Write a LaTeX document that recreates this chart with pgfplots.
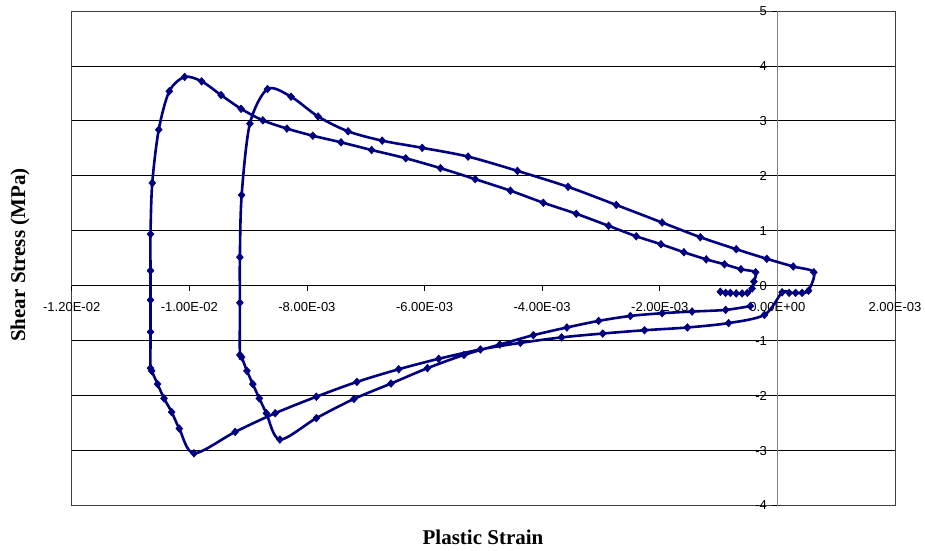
\documentclass[border=0pt]{standalone}
\usepackage{pgfplots}
\usepackage{pgfplotstable}
\pgfplotsset{compat=1.18}
\usepackage{fontspec}
\setmainfont{Liberation Sans}
\newfontfamily\timesfont{Liberation Serif}
\definecolor{navy}{RGB}{0,0,128}

\pgfplotstableread{
x y
-0.00097 -0.11
-0.00088 -0.13
-0.00080 -0.13
-0.00070 -0.14
-0.00060 -0.14
-0.00051 -0.13
-0.00043 -0.05
-0.00040 0.075
-0.00037 0.245
-0.00062 0.30
-0.00090 0.39
-0.00121 0.48
-0.00159 0.61
-0.00198 0.755
-0.00240 0.90
-0.00287 1.09
-0.00342 1.31
-0.00398 1.51
-0.00454 1.73
-0.00514 1.94
-0.00573 2.14
-0.00632 2.32
-0.00690 2.47
-0.00742 2.61
-0.00790 2.73
-0.00834 2.86
-0.00875 3.01
-0.00912 3.22
-0.00946 3.47
-0.00979 3.72
-0.01008 3.80
-0.01034 3.54
-0.01052 2.84
-0.01063 1.87
-0.01066 0.94
-0.01066 0.275
-0.01066 -0.26
-0.01066 -0.84
-0.01066 -1.50
-0.01064 -1.55
-0.01054 -1.79
-0.01043 -2.05
-0.01030 -2.30
-0.01017 -2.60
-0.00992 -3.05
-0.00922 -2.66
-0.00854 -2.32
-0.00784 -2.02
-0.00715 -1.75
-0.00644 -1.52
-0.00576 -1.33
-0.00505 -1.16
-0.00437 -1.04
-0.00367 -0.94
-0.00297 -0.87
-0.00226 -0.81
-0.00153 -0.76
-0.00083 -0.68
-0.00022 -0.53
0.00008 -0.12
0.00020 -0.13
0.00031 -0.13
0.00042 -0.13
0.00053 -0.09
0.00062 0.245
0.00027 0.35
-0.00018 0.49
-0.00070 0.665
-0.00131 0.883
-0.00196 1.15
-0.00274 1.47
-0.00356 1.80
-0.00442 2.09
-0.00526 2.35
-0.00604 2.51
-0.00672 2.64
-0.00730 2.81
-0.00781 3.08
-0.00827 3.44
-0.00867 3.58
-0.00897 2.95
-0.00911 1.65
-0.00914 0.52
-0.00914 -0.31
-0.00914 -1.26
-0.00911 -1.30
-0.00902 -1.55
-0.00892 -1.79
-0.00881 -2.05
-0.00869 -2.32
-0.00846 -2.80
-0.00784 -2.41
-0.00720 -2.06
-0.00657 -1.78
-0.00595 -1.50
-0.00533 -1.26
-0.00472 -1.07
-0.00415 -0.90
-0.00358 -0.76
-0.00304 -0.64
-0.00250 -0.55
-0.00196 -0.50
-0.00145 -0.47
-0.00088 -0.44
-0.00046 -0.37
}\loopdata

\begin{document}
\begin{tikzpicture}
\useasboundingbox (-71.7pt,-44.5pt) rectangle (853.3pt,505.5pt);
% frame and grid
\begin{axis}[
  scale only axis, width=823.3pt, height=494.5pt,
  xmin=-0.012, xmax=0.002, ymin=-4, ymax=5,
  axis line style={draw=black!75, line width=0.9pt},
  xtick=\empty, ytick={-4,-3,-2,-1,0,1,2,3,4,5}, yticklabels={},
  major tick length=0pt,
  ymajorgrids, grid style={black, line width=0.8pt},
]
\end{axis}
% middle axes with data
\begin{axis}[
  scale only axis, width=823.3pt, height=494.5pt,
  xmin=-0.012, xmax=0.002, ymin=-4, ymax=5,
  axis lines=middle,
  scaled x ticks=false, scaled y ticks=false,
  x axis line style={-, draw=black, line width=0.8pt},
  y axis line style={-, draw=black!50, line width=0.9pt},
  xtick={-0.012,-0.010,-0.008,-0.006,-0.004,-0.002,0,0.002},
  xticklabels={-1.20E-02,-1.00E-02,-8.00E-03,-6.00E-03,-4.00E-03,-2.00E-03,0.00E+00,2.00E-03},
  ytick={-4,-3,-2,-1,0,1,2,3,4,5},
  yticklabels={-4,-3,-2,-1,0,1,2,3,4,5},
  hide obscured x ticks=false, hide obscured y ticks=false,
  tick align=outside, major tick length=5pt,
  tick style={black, line width=0.8pt},
  ticklabel style={font=\fontsize{13}{15}\selectfont},
  xticklabel style={anchor=north, yshift=-8pt},
  yticklabel style={anchor=east, xshift=-2pt},
  clip=false,
]
\addplot[navy, line width=2.6pt, smooth, tension=0.5,
  mark=diamond*, mark size=3.8pt, mark options={solid, xscale=1.2, fill=navy, draw=navy, line width=0.6pt}]
  table[x=x, y=y] {\loopdata};
\end{axis}
\node[font=\timesfont\bfseries\fontsize{21}{24}\selectfont] at (411.3pt,-31.5pt) {Plastic Strain};
\node[font=\timesfont\bfseries\fontsize{21}{24}\selectfont, rotate=90] at (-51.7pt,250.5pt) {Shear Stress (MPa)};
\end{tikzpicture}
\end{document}
